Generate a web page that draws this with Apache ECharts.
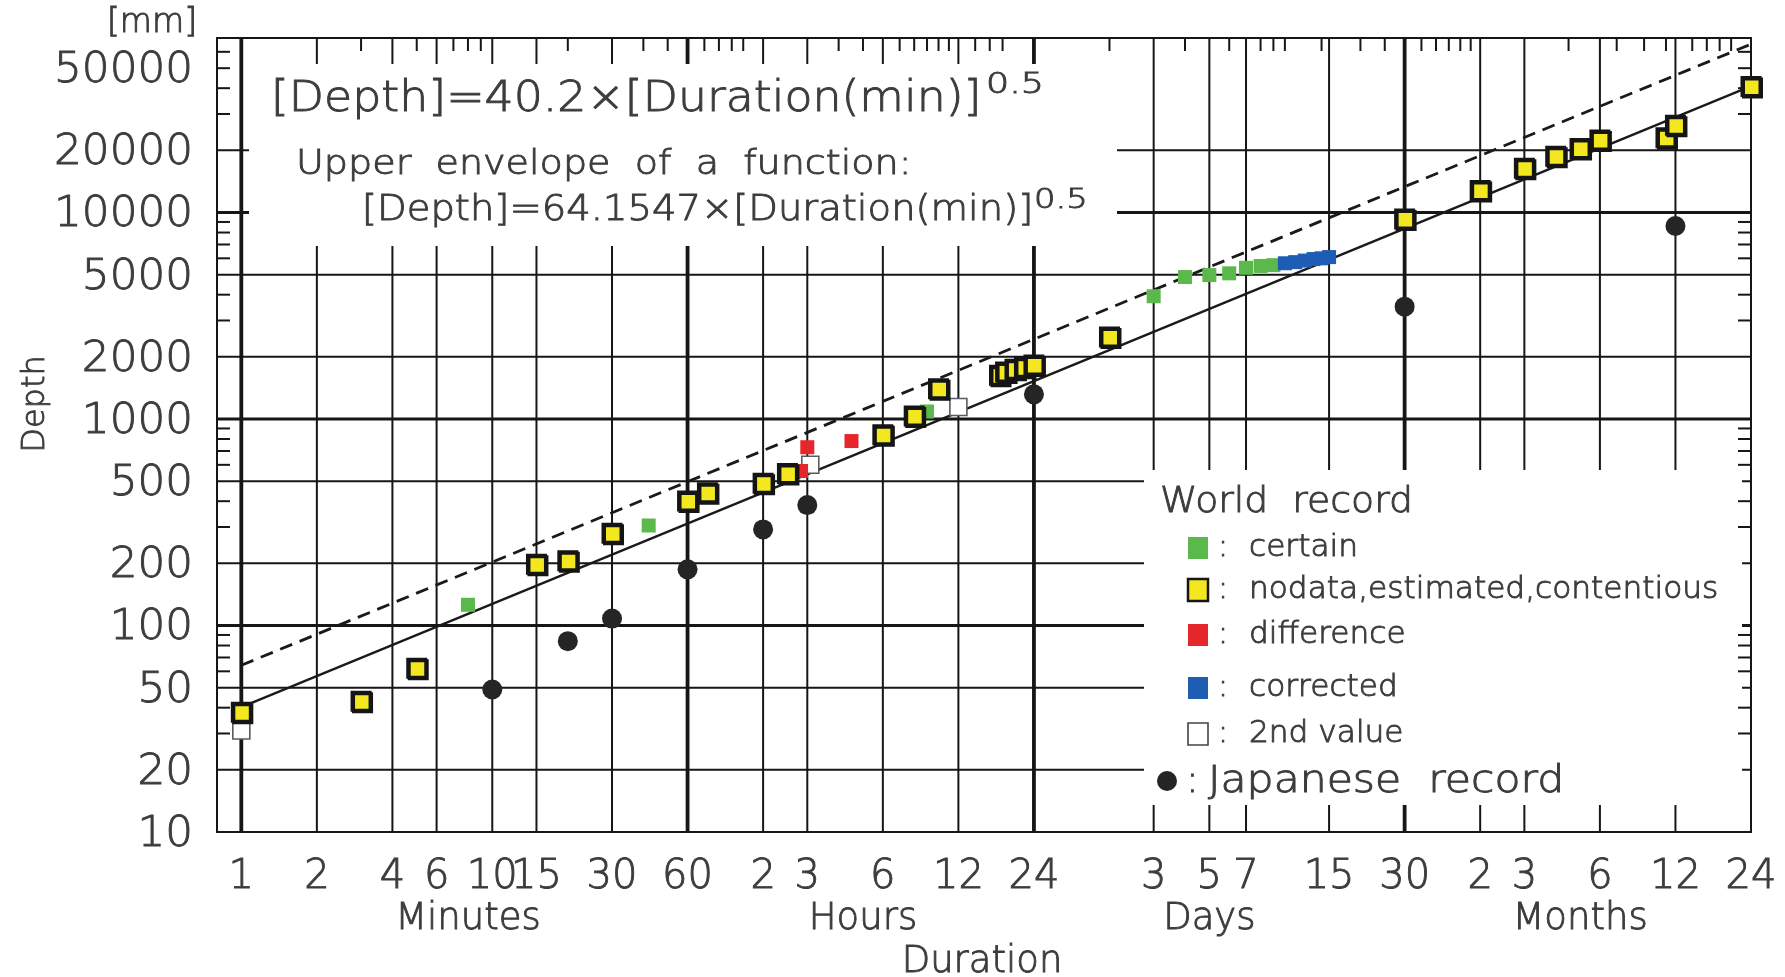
<!DOCTYPE html>
<html>
<head>
<meta charset="utf-8">
<title>Depth-duration rainfall records</title>
<script src="https://cdn.jsdelivr.net/npm/echarts@6/dist/echarts.min.js"></script>
<style>
  html, body { margin: 0; padding: 0; background: #ffffff; }
  #chart { width: 1785px; height: 977px; }
</style>
</head>
<body>
<div id="chart"></div>
<script>
// All durations are in minutes.
const HOUR = 60, DAY = 24 * HOUR, MONTH = 30 * DAY;

// ---- axes -------------------------------------------------------------
const X_MIN = 0.8, X_MAX = 24 * MONTH;
const Y_MIN = 10, Y_MAX = 70000;

const xTickValues = [1, 2, 4, 6, 10, 15, 30, 60,
  2 * HOUR, 3 * HOUR, 6 * HOUR, 12 * HOUR, 24 * HOUR,
  3 * DAY, 5 * DAY, 7 * DAY, 15 * DAY, 30 * DAY,
  2 * MONTH, 3 * MONTH, 6 * MONTH, 12 * MONTH, 24 * MONTH];
const xTickLabels = ['1', '2', '4', '6', '10', '15', '30', '60',
  '2', '3', '6', '12', '24',
  '3', '5', '7', '15', '30',
  '2', '3', '6', '12', '24'];
const unitBoundaries = [1, HOUR, DAY, MONTH];
const xMinorTicks = [3, 5, 7, 8, 9, 20, 40, 50, 70, 80, 90, 100,
  4 * HOUR, 5 * HOUR, 7 * HOUR, 8 * HOUR, 9 * HOUR, 10 * HOUR, 11 * HOUR, 14 * HOUR, 16 * HOUR, 18 * HOUR,
  2 * DAY, 4 * DAY, 6 * DAY, 8 * DAY, 9 * DAY, 10 * DAY, 14 * DAY, 20 * DAY, 25 * DAY,
  35 * DAY, 40 * DAY, 45 * DAY, 50 * DAY, 55 * DAY,
  4.5 * MONTH, 7 * MONTH, 9 * MONTH, 11 * MONTH, 14 * MONTH, 16 * MONTH, 18 * MONTH, 20 * MONTH];
const unitNames = ['Minutes', 'Hours', 'Days', 'Months'];
const unitNameAt = [8, 5 * HOUR, 5 * DAY, 5 * MONTH];

const yTickValues = [10, 20, 50, 100, 200, 500, 1000, 2000, 5000, 10000, 20000, 50000];
const yTickLabels = ['10', '20', '50', '100', '200', '500', '1000', '2000', '5000', '10000', '20000', '50000'];
const yGridValues = [20, 50, 100, 200, 500, 1000, 2000, 5000, 10000, 20000];
const yDecades = [100, 1000, 10000];
const yMinorTicks = [30, 40, 60, 70, 80, 90, 300, 400, 600, 700, 800, 900,
  3000, 4000, 6000, 7000, 8000, 9000, 30000, 40000, 50000, 60000];

// ---- records [duration (min), depth (mm)] -----------------------------
const certain = [[8, 126], [42, 305], [9 * HOUR, 1087], [3 * DAY, 3930], [4 * DAY, 4869],
  [5 * DAY, 4979], [6 * DAY, 5075], [7 * DAY, 5400], [8 * DAY, 5510], [9 * DAY, 5560]];
const estimated = [[1, 38], [3, 43], [5, 62], [15, 198], [20, 206], [30, 280], [60, 401], [72, 440],
  [2 * HOUR, 489], [150, 545], [6 * HOUR, 840], [8 * HOUR, 1035], [10 * HOUR, 1400],
  [1050, 1630], [1110, 1689], [1210, 1740], [1320, 1780], [24 * HOUR, 1825],
  [2 * DAY, 2493], [30 * DAY, 9300], [2 * MONTH, 12767], [3 * MONTH, 16369], [4 * MONTH, 18738],
  [5 * MONTH, 20412], [6 * MONTH, 22454], [11 * MONTH, 22990], [12 * MONTH, 26461], [24 * MONTH, 40768]];
const difference = [[170, 560], [3 * HOUR, 730], [270, 782]];
const corrected = [[10 * DAY, 5678], [11 * DAY, 5750], [12 * DAY, 5850], [13 * DAY, 5950],
  [14 * DAY, 6000], [15 * DAY, 6083]];
const secondValue = [[1, 31], [185, 600], [12 * HOUR, 1144]];
const japanese = [[10, 49], [20, 84], [30, 108], [60, 187], [2 * HOUR, 292], [3 * HOUR, 383],
  [24 * HOUR, 1317], [30 * DAY, 3500], [12 * MONTH, 8600]];

// ---- power-law curves: depth = coef * duration^exponent -----------------
const fitCoef = 40.2, envelopeCoef = 64.1547, curveExponent = 0.5;
const curveSpan = [1, X_MAX];

// ---- drawing ------------------------------------------------------------
const INK = '#3c3c3c';
const LINE = '#161616';
const FONT = '"DejaVu Sans", "Liberation Sans", sans-serif';
const WEIGHT = '200';

function textStyle(text, size, align, extra) {
  return Object.assign({
    text: text,
    font: WEIGHT + ' ' + size + 'px ' + FONT,
    fill: INK,
    stroke: INK, lineWidth: 0.9,
    align: align, textAlign: align,
    verticalAlign: 'middle', textVerticalAlign: 'middle'
  }, extra || {});
}

function overlay(name, data, z, renderItem) {
  return {
    type: 'custom', name: name, data: data, z: z, silent: true, clip: false,
    animation: false, encode: { x: 0, y: 1 }, renderItem: renderItem
  };
}

function curve(coef) {
  return curveSpan.map(t => [t, coef * Math.pow(t, curveExponent)]);
}

const seriesList = [
  // vertical grid lines
  overlay('xgrid', xTickValues.map(v => [v, Y_MIN]), 2, (params, api) => {
    const v = api.value(0);
    const a = api.coord([v, Y_MIN]), b = api.coord([v, Y_MAX]);
    return {
      type: 'line', shape: { x1: a[0], y1: a[1], x2: b[0], y2: b[1] },
      style: { stroke: LINE, lineWidth: unitBoundaries.indexOf(v) >= 0 ? 3.8 : 2 }
    };
  }),
  // horizontal grid lines
  overlay('ygrid', yGridValues.map(v => [X_MIN, v]), 2, (params, api) => {
    const v = api.value(1);
    const a = api.coord([X_MIN, v]), b = api.coord([X_MAX, v]);
    return {
      type: 'line', shape: { x1: a[0], y1: a[1], x2: b[0], y2: b[1] },
      style: { stroke: LINE, lineWidth: yDecades.indexOf(v) >= 0 ? 2.8 : 2 }
    };
  }),
  // minor ticks hanging from the top frame
  overlay('xminor', xMinorTicks.map(v => [v, Y_MAX]), 6, (params, api) => {
    const p = api.coord([api.value(0), Y_MAX]);
    return {
      type: 'line', shape: { x1: p[0], y1: p[1], x2: p[0], y2: p[1] + 13 },
      style: { stroke: LINE, lineWidth: 2 }
    };
  }),
  // minor ticks on the left and right frames
  overlay('yminor', yMinorTicks.map(v => [X_MIN, v]), 6, (params, api) => {
    const v = api.value(1);
    const l = api.coord([X_MIN, v]), r = api.coord([X_MAX, v]);
    return {
      type: 'group', children: [
        { type: 'line', shape: { x1: l[0], y1: l[1], x2: l[0] + 13, y2: l[1] }, style: { stroke: LINE, lineWidth: 2 } },
        { type: 'line', shape: { x1: r[0], y1: r[1], x2: r[0] - 13, y2: r[1] }, style: { stroke: LINE, lineWidth: 2 } }
      ]
    };
  }),
  // tick labels
  overlay('xlabels', xTickValues.map(v => [v, Y_MIN]), 10, (params, api) => {
    const p = api.coord([api.value(0), Y_MIN]);
    return { type: 'text', x: p[0], y: p[1] + 46, style: textStyle(xTickLabels[params.dataIndex], 40, 'center') };
  }),
  overlay('ylabels', yTickValues.map(v => [X_MIN, v]), 10, (params, api) => {
    const p = api.coord([X_MIN, api.value(1)]);
    return { type: 'text', x: p[0] - 24, y: p[1] + 3, scaleX: 1.04, style: textStyle(yTickLabels[params.dataIndex], 42, 'right') };
  }),
  overlay('units', unitNameAt.map(v => [v, Y_MIN]), 10, (params, api) => {
    const p = api.coord([api.value(0), Y_MIN]);
    return { type: 'text', x: p[0], y: p[1] + 87, style: textStyle(unitNames[params.dataIndex], 37, 'center') };
  }),
  // fitted line and its upper envelope
  {
    type: 'line', name: 'fit', data: curve(fitCoef), z: 7, silent: true, animation: false,
    showSymbol: false, symbol: 'none', lineStyle: { color: '#1a1a1a', width: 2.4 }
  },
  {
    type: 'line', name: 'envelope', data: curve(envelopeCoef), z: 7, silent: true, animation: false,
    showSymbol: false, symbol: 'none', lineStyle: { color: '#1a1a1a', width: 2.8, type: [13, 8] }
  },
  // records
  {
    type: 'scatter', name: 'Japanese record', data: japanese, z: 8, animation: false,
    symbol: 'circle', symbolSize: 20, itemStyle: { color: '#252525', opacity: 1 }
  },
  {
    type: 'scatter', name: '2nd value', data: secondValue, z: 8, animation: false,
    symbol: 'rect', symbolSize: 17, itemStyle: { color: '#ffffff', borderColor: '#5a5a66', borderWidth: 1.6, opacity: 1 }
  },
  {
    type: 'scatter', name: 'certain', data: certain, z: 8, animation: false,
    symbol: 'rect', symbolSize: 14, itemStyle: { color: '#5bb84a', opacity: 1 }
  },
  {
    type: 'scatter', name: 'difference', data: difference, z: 8, animation: false,
    symbol: 'rect', symbolSize: 14, itemStyle: { color: '#e5262b', opacity: 1 }
  },
  {
    type: 'scatter', name: 'corrected', data: corrected, z: 8, animation: false,
    symbol: 'rect', symbolSize: 14, itemStyle: { color: '#1f5db5', opacity: 1 }
  },
  {
    type: 'scatter', name: 'nodata,estimated,contentious', data: estimated, z: 9, animation: false,
    symbol: 'rect', symbolSize: 18,
    itemStyle: {
      color: '#f3e81f', borderColor: '#151515', borderWidth: 3, opacity: 1,
      shadowColor: '#151515', shadowBlur: 0, shadowOffsetX: 1.5, shadowOffsetY: 1.5
    }
  }
];

// ---- texts, white panels and the key -----------------------------------
const legendRows = [
  { label: 'certain', y: 548, fill: '#5bb84a' },
  { label: 'nodata,estimated,contentious', y: 590, fill: '#f3e81f', stroke: '#151515' },
  { label: 'difference', y: 635, fill: '#e5262b' },
  { label: 'corrected', y: 688, fill: '#1f5db5' },
  { label: '2nd value', y: 734, fill: '#ffffff', stroke: '#444444', thin: true }
];

const graphics = [
  // panel behind the formulas
  { type: 'rect', z: 4, silent: true, shape: { x: 249, y: 64, width: 868, height: 182 }, style: { fill: '#ffffff' } },
  // panel behind the key
  { type: 'rect', z: 4, silent: true, shape: { x: 1144, y: 470, width: 598, height: 335 }, style: { fill: '#ffffff' } },

  { type: 'text', z: 10, x: 271, y: 100, scaleX: 1.09, style: textStyle('[Depth]=40.2\u00d7[Duration(min)]', 42, 'left') },
  { type: 'text', z: 10, x: 986, y: 86, scaleX: 1.3, style: textStyle('0.5', 28, 'left') },
  { type: 'text', z: 10, x: 296, y: 165, scaleX: 1.12, style: textStyle('Upper  envelope  of  a  function:', 34, 'left') },
  { type: 'text', z: 10, x: 362, y: 211, scaleX: 1.07, style: textStyle('[Depth]=64.1547\u00d7[Duration(min)]', 36, 'left') },
  { type: 'text', z: 10, x: 1034, y: 201, scaleX: 1.3, style: textStyle('0.5', 26, 'left') },

  { type: 'text', z: 10, x: 197, y: 23, style: textStyle('[mm]', 33, 'right') },
  { type: 'text', z: 10, x: 36, y: 404, rotation: Math.PI / 2, style: textStyle('Depth', 32, 'center') },
  { type: 'text', z: 10, x: 982, y: 962, style: textStyle('Duration', 37, 'center') },

  { type: 'text', z: 10, x: 1160, y: 503, scaleX: 1.08, style: textStyle('World  record', 35, 'left') },
  { type: 'circle', z: 10, shape: { cx: 1167, cy: 781, r: 10 }, style: { fill: '#252525' } },
  { type: 'text', z: 10, x: 1186, y: 782, style: textStyle(':', 38, 'left') },
  { type: 'text', z: 10, x: 1208, y: 782, scaleX: 1.15, style: textStyle('Japanese  record', 37, 'left') }
];
legendRows.forEach(row => {
  graphics.push({
    type: 'rect', z: 10, shape: { x: 1188, y: row.y - 11, width: 20, height: 22 },
    style: { fill: row.fill, stroke: row.stroke || null, lineWidth: row.stroke ? (row.thin ? 1.6 : 2.5) : 0 }
  });
  graphics.push({ type: 'text', z: 10, x: 1218, y: row.y, style: textStyle(':', 30, 'left') });
  graphics.push({ type: 'text', z: 10, x: 1249, y: row.y, scaleX: 1.04, style: textStyle(row.label, 30, 'left') });
});

const chart = echarts.init(document.getElementById('chart'), null, { renderer: 'canvas' });
chart.setOption({
  backgroundColor: '#ffffff',
  animation: false,
  grid: {
    left: 217, top: 38, width: 1534, height: 794,
    show: true, borderColor: '#161616', borderWidth: 2, backgroundColor: 'transparent'
  },
  xAxis: {
    type: 'log', logBase: 10, min: X_MIN, max: X_MAX,
    axisLine: { show: false }, axisTick: { show: false }, axisLabel: { show: false },
    splitLine: { show: false }, minorSplitLine: { show: false }
  },
  yAxis: {
    type: 'log', logBase: 10, min: Y_MIN, max: Y_MAX,
    axisLine: { show: false }, axisTick: { show: false }, axisLabel: { show: false },
    splitLine: { show: false }, minorSplitLine: { show: false }
  },
  graphic: { elements: graphics },
  series: seriesList
});
</script>
</body>
</html>
